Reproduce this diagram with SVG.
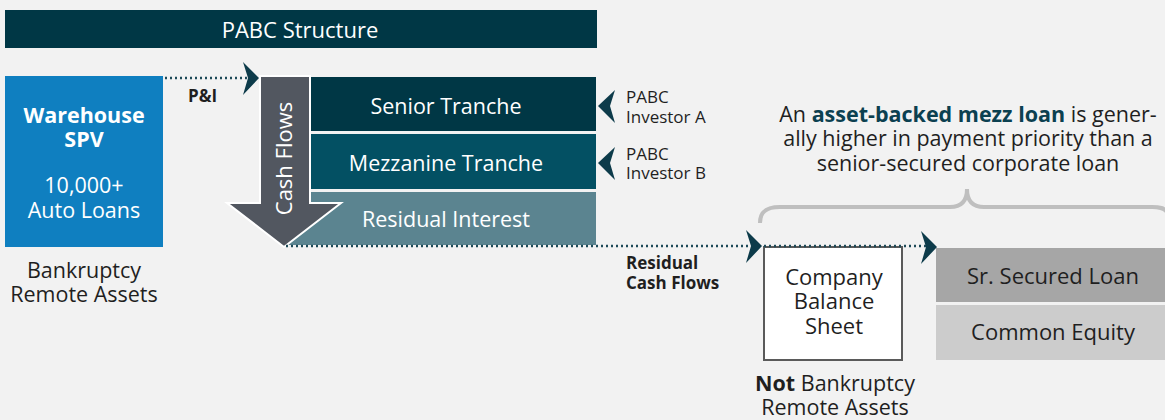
<svg xmlns="http://www.w3.org/2000/svg" width="1165" height="420" viewBox="0 0 1165 420">
<defs>
<style>
text{font-family:"Open Sans","Noto Sans","Liberation Sans",sans-serif;}
.w{fill:#fff;}
.d{fill:#1f1f1f;}
.c{text-anchor:middle;}
.b{font-weight:bold;}
.dot{stroke:#1d4a58;stroke-width:2.5;stroke-dasharray:2 3;fill:none;}
.chev{fill:#0d3b4a;}
</style>
<path id="chevR" d="M-16,-16 L0,0 L-16,17 L-11,0 Z"/>
<path id="chevL" d="M17,-16 L0,0 L17,17 L12,0 Z"/>
</defs>
<rect width="1165" height="420" fill="#f2f2f2"/>

<g id="title">
<rect x="5" y="10" width="592" height="38" fill="#003745"/>
<text x="300" y="38" class="w c" font-size="22">PABC Structure</text>
</g>

<g id="warehouse">
<rect x="5" y="76" width="158" height="171" fill="#0f7fc0"/>
<text x="84" y="123" class="w c b" font-size="21.5">Warehouse</text>
<text x="84" y="147" class="w c b" font-size="21.5">SPV</text>
<text x="84" y="193" class="w c" font-size="21.5">10,000+</text>
<text x="84" y="218" class="w c" font-size="21.5">Auto Loans</text>
</g>
<g id="warehouse-label">
<text x="84" y="278" class="d c" font-size="21.5">Bankruptcy</text>
<text x="84" y="302" class="d c" font-size="21.5">Remote Assets</text>
</g>

<g id="residual">
<rect x="284" y="192" width="312" height="53" fill="#5b8490"/>
<text x="446" y="227" class="w c" font-size="21.5">Residual Interest</text>
</g>
<g id="senior">
<rect x="310" y="77" width="286" height="54" fill="#003745"/>
<text x="446" y="114" class="w c" font-size="21.5">Senior Tranche</text>
</g>
<g id="mezzanine">
<rect x="310" y="134" width="286" height="55" fill="#035063"/>
<text x="446" y="171" class="w c" font-size="21.5">Mezzanine Tranche</text>
</g>

<g id="cashflows">
<path d="M260,76 L310,76 L310,203 L341,203 L284,247 L227,203 L260,203 Z" fill="#525760" stroke="#fff" stroke-width="2"/>
<text transform="translate(292,158.5) rotate(-90)" class="w c" font-size="22">Cash Flows</text>
</g>

<g id="investorA">
<text x="626" y="103" class="d" font-size="17">PABC</text>
<text x="626" y="123" class="d" font-size="17">Investor A</text>
</g>
<g id="investorB">
<text x="626" y="160" class="d" font-size="17">PABC</text>
<text x="626" y="179" class="d" font-size="17">Investor B</text>
</g>

<g id="company">
<rect x="764" y="247" width="138" height="113" fill="#fff" stroke="#5a5a5a" stroke-width="2"/>
<text x="834" y="285" class="d c" font-size="22">Company</text>
<text x="834" y="309" class="d c" font-size="22">Balance</text>
<text x="834" y="334" class="d c" font-size="22">Sheet</text>
</g>
<g id="company-label">
<text x="835" y="391" class="d c" font-size="21.5"><tspan class="b">Not</tspan> Bankruptcy</text>
<text x="835" y="415" class="d c" font-size="21.5">Remote Assets</text>
</g>

<g id="srsecured">
<rect x="936" y="248" width="229" height="54" fill="#a6a6a6"/>
<text x="1053" y="284" class="d c" font-size="22">Sr. Secured Loan</text>
</g>
<g id="equity">
<rect x="936" y="305" width="229" height="55" fill="#cccccc"/>
<text x="1053" y="340" class="d c" font-size="22">Common Equity</text>
</g>

<g id="callout">
<text x="968" y="122" class="d c" font-size="21.5">An <tspan class="b" fill="#0b4050">asset-backed mezz loan</tspan> is gener-</text>
<text x="968" y="146" class="d c" font-size="21.5">ally higher in payment priority than a</text>
<text x="968" y="171" class="d c" font-size="21.5">senior-secured corporate loan</text>
<path d="M760,223 C760,212 766,207 780,207 L950,207 C962,207 967,200 967,189 C967,200 972,207 984,207 L1152,207 C1160,207 1164,208 1167,212" fill="none" stroke="#bfbfbf" stroke-width="4"/>
</g>

<g id="connectors">
<line x1="165" y1="78" x2="250" y2="78" class="dot"/>
<use href="#chevR" x="259" y="78" class="chev"/>
<text x="188" y="102" class="d b" font-size="17">P&amp;I</text>
<line x1="286" y1="246" x2="755" y2="246" class="dot"/>
<use href="#chevR" x="762" y="246" class="chev"/>
<line x1="764" y1="246" x2="930" y2="246" class="dot"/>
<use href="#chevR" x="937" y="247" class="chev"/>
<text x="626" y="269" class="d b" font-size="17">Residual</text>
<text x="626" y="289" class="d b" font-size="17">Cash Flows</text>
<use href="#chevL" x="598" y="106" class="chev"/>
<use href="#chevL" x="598" y="163" class="chev"/>
</g>
</svg>
